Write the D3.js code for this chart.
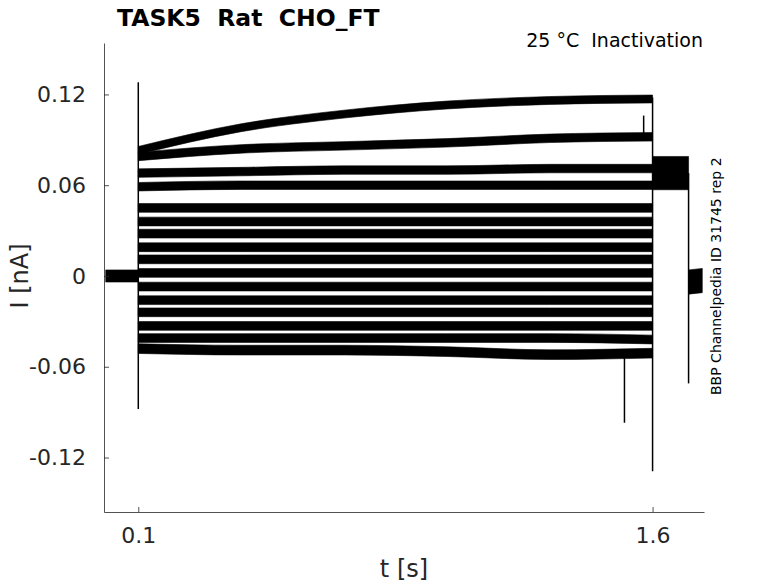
<!DOCTYPE html>
<html>
<head>
<meta charset="utf-8">
<script src="https://cdn.jsdelivr.net/npm/d3@7"></script>
<style>
  body { margin: 0; background: #fff; }
  svg { font-family: "DejaVu Sans", sans-serif; }
  text { white-space: pre; }
</style>
</head>
<body>
<svg id="chart" width="778" height="583"></svg>
<script>
// knot times of the test pulse (s)
const tKnots = [0.1, 0.4, 0.7, 1.0, 1.3, 1.6];

// mean current of each sweep at the knots (nA)
const sweeps = [
    [0.083, 0.098, 0.107, 0.113, 0.116, 0.117],
    [0.079, 0.084, 0.086, 0.088, 0.091, 0.092],
    [0.068, 0.069, 0.070, 0.070, 0.071, 0.071],
    [0.059, 0.060, 0.060, 0.060, 0.060, 0.060],
    [0.045, 0.045, 0.045, 0.045, 0.045, 0.045],
    [0.036, 0.036, 0.036, 0.036, 0.036, 0.036],
    [0.028, 0.028, 0.028, 0.028, 0.028, 0.028],
    [0.019, 0.019, 0.019, 0.019, 0.019, 0.019],
    [0.011, 0.011, 0.011, 0.011, 0.011, 0.011],
    [0.002, 0.002, 0.002, 0.002, 0.002, 0.002],
    [-0.007, -0.007, -0.007, -0.007, -0.007, -0.007],
    [-0.016, -0.016, -0.016, -0.016, -0.016, -0.016],
    [-0.024, -0.024, -0.024, -0.024, -0.024, -0.024],
    [-0.033, -0.033, -0.033, -0.033, -0.033, -0.033],
    [-0.041, -0.041, -0.041, -0.041, -0.041, -0.042],
    [-0.048, -0.049, -0.049, -0.050, -0.052, -0.051]
];

// half width of the noise band of each sweep (nA)
const sweepNoise = [0.0026, 0.0028, 0.0028, 0.0028, 0.0029, 0.0029, 0.0029, 0.0029,
                    0.0029, 0.0029, 0.0029, 0.0029, 0.0029, 0.0029, 0.0029, 0.0032];

// holding segments before and after the pulse
const preTimes = [0.005, 0.1];
const preLevel = [0.0, 0.0];
const preNoise = 0.004;
const tailTimes = [1.6, 1.705];
const tailLevel = [0.068, 0.068];
const tailNoise = 0.011;
const postTimes = [1.705, 1.745];
const postLevel = [-0.004, -0.003];
const postNoise = 0.008;

// capacitive transients and single spikes
const spikeTimes = [0.1, 1.6, 1.518, 1.574, 1.705];
const spikeTop = [0.128, 0.118, -0.050, 0.106, 0.068];
const spikeBottom = [-0.088, -0.129, -0.097, 0.093, -0.071];

const xTicks = [0.1, 1.6];
const yTicks = [-0.12, -0.06, 0, 0.06, 0.12];

const titleText = "TASK5  Rat  CHO_FT";
const subtitleText = "25 °C  Inactivation";
const sideText = "BBP Channelpedia ID 31745 rep 2";

const svg = d3.select("#chart");
const axisColor = "#262626";

const x = d3.scaleLinear().domain([0, 1.75]).range([104, 704]);
const y = d3.scaleLinear().domain([-0.156, 0.154]).range([512, 43]);

// build band data: each band is a list of {t, v, n}
const bands = [];
bands.push(preTimes.map((t, i) => ({ t, v: preLevel[i], n: preNoise })));
sweeps.forEach((s, k) => bands.push(tKnots.map((t, i) => ({ t, v: s[i], n: sweepNoise[k] }))));
bands.push(tailTimes.map((t, i) => ({ t, v: tailLevel[i], n: tailNoise })));
bands.push(postTimes.map((t, i) => ({ t, v: postLevel[i], n: postNoise })));

const area = d3.area()
    .curve(d3.curveMonotoneX)
    .x(d => x(d.t))
    .y0(d => y(d.v - d.n))
    .y1(d => y(d.v + d.n));

const g = svg.append("g");

g.selectAll("path.band")
    .data(bands)
    .join("path")
    .attr("class", "band")
    .attr("d", area)
    .attr("fill", "#000")
    .attr("stroke", "#000")
    .attr("stroke-width", 0.6);

g.selectAll("line.spike")
    .data(spikeTimes)
    .join("line")
    .attr("class", "spike")
    .attr("x1", d => x(d))
    .attr("x2", d => x(d))
    .attr("y1", (d, i) => y(spikeTop[i]))
    .attr("y2", (d, i) => y(spikeBottom[i]))
    .attr("stroke", "#000")
    .attr("stroke-width", 1.5);

// axes (MATLAB style, ticks inward, no box)
const yAxis = d3.axisLeft(y)
    .tickValues(yTicks)
    .tickFormat(d => d === 0 ? "0" : String(d))
    .tickSizeInner(-5)
    .tickSizeOuter(0)
    .tickPadding(18);

const xAxis = d3.axisBottom(x)
    .tickValues(xTicks)
    .tickFormat(d => String(d))
    .tickSizeInner(-5)
    .tickSizeOuter(0)
    .tickPadding(15);

const gy = svg.append("g").attr("transform", "translate(104,0)").call(yAxis);
const gx = svg.append("g").attr("transform", "translate(0,512)").call(xAxis);

[gx, gy].forEach(a => {
    a.select(".domain").attr("stroke", axisColor).attr("stroke-width", 0.8);
    a.selectAll(".tick line").attr("stroke", axisColor).attr("stroke-width", 0.8);
    a.selectAll(".tick text")
        .attr("fill", axisColor)
        .style("font-size", "22px")
        .style("font-family", "DejaVu Sans");
});

// labels
svg.append("text")
    .attr("x", 404).attr("y", 577)
    .attr("text-anchor", "middle")
    .attr("fill", axisColor)
    .style("font-size", "24px")
    .text("t [s]");

svg.append("text")
    .attr("transform", "translate(28,276) rotate(-90)")
    .attr("text-anchor", "middle")
    .attr("fill", axisColor)
    .style("font-size", "24px")
    .text("I [nA]");

svg.append("text")
    .attr("x", 117).attr("y", 26)
    .attr("fill", "#000")
    .style("font-size", "23.5px")
    .style("font-weight", "bold")
    .text(titleText);

svg.append("text")
    .attr("x", 703).attr("y", 47)
    .attr("text-anchor", "end")
    .attr("fill", "#000")
    .style("font-size", "19px")
    .text(subtitleText);

svg.append("text")
    .attr("transform", "translate(721,395) rotate(-90)")
    .attr("text-anchor", "start")
    .attr("fill", "#000")
    .style("font-size", "14px")
    .text(sideText);
</script>
</body>
</html>
